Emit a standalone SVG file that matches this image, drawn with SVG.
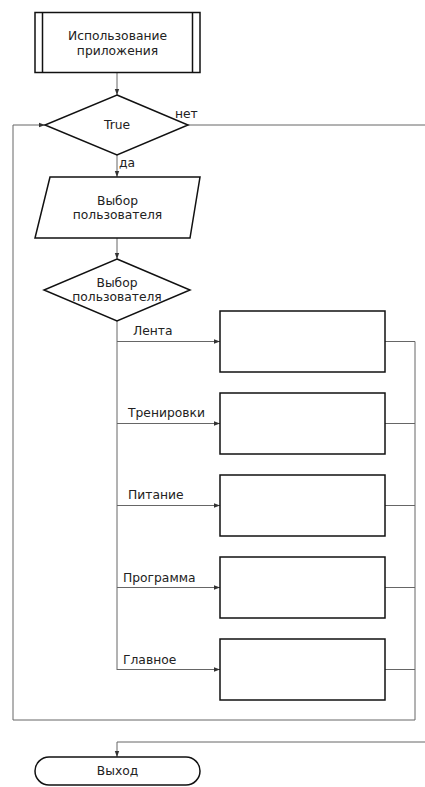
<svg xmlns="http://www.w3.org/2000/svg" width="425" height="787" viewBox="0 0 425 787">
<defs>
<marker id="arr" markerWidth="6" markerHeight="6" refX="6" refY="3" orient="auto" markerUnits="userSpaceOnUse">
<path d="M0,0.8 L6,3 L0,5.2 Z" fill="#333"/>
</marker>
<style>
.shape{fill:#fff;stroke:#111;stroke-width:1.5}
.line{fill:none;stroke:#666;stroke-width:1}
.t{font-family:"DejaVu Sans",Verdana,sans-serif;font-size:12.3px;fill:#222}
.c{text-anchor:middle}
</style>
</defs>
<rect width="425" height="787" fill="#fff"/>
<g id="connectors">
<path class="line" d="M117,73 V95" marker-end="url(#arr)"/>
<path class="line" d="M117,155 V177" marker-end="url(#arr)"/>
<path class="line" d="M117,238 V259" marker-end="url(#arr)"/>
<path class="line" d="M188,125 H425"/>
<path class="line" d="M13,125 H45" marker-end="url(#arr)"/>
<path class="line" d="M117,321 V670"/>
<path class="line" d="M117,341.5 H220" marker-end="url(#arr)"/>
<path class="line" d="M117,423.5 H220" marker-end="url(#arr)"/>
<path class="line" d="M117,505.5 H220" marker-end="url(#arr)"/>
<path class="line" d="M117,587.5 H220" marker-end="url(#arr)"/>
<path class="line" d="M117,669.5 H220" marker-end="url(#arr)"/>
<path class="line" d="M385,341.5 H415 M385,423.5 H415 M385,505.5 H415 M385,587.5 H415 M385,669.5 H415"/>
<path class="line" d="M415,341.5 V720 H13 V125"/>
<path class="line" d="M425,742 H117 V757" marker-end="url(#arr)"/>
<text class="t" x="175" y="118">нет</text>
<text class="t" x="119" y="167">да</text>
<text class="t" x="133" y="335">Лента</text>
<text class="t" x="128" y="417">Тренировки</text>
<text class="t" x="128" y="499">Питание</text>
<text class="t" x="123" y="582">Программа</text>
<text class="t" x="123" y="664">Главное</text>
</g>
<g id="start">
<rect class="shape" x="35" y="12.5" width="165" height="60"/>
<path class="shape" d="M42.5,12.5 V72.5 M192.5,12.5 V72.5"/>
<text class="t c" x="117.5" y="40">Использование</text>
<text class="t c" x="117.5" y="55">приложения</text>
</g>
<g id="cond-true">
<polygon class="shape" points="117,95 188,125 117,155 45,125"/>
<text class="t c" x="117" y="129">True</text>
</g>
<g id="input">
<polygon class="shape" points="50,177 200,177 190,238 35,238"/>
<text class="t c" x="117.5" y="205">Выбор</text>
<text class="t c" x="117.5" y="219">пользователя</text>
</g>
<g id="cond-choice">
<polygon class="shape" points="117,259 190,290 117,321 44,290"/>
<text class="t c" x="117" y="287">Выбор</text>
<text class="t c" x="117" y="301">пользователя</text>
</g>
<g id="box1"><rect class="shape" x="220" y="311" width="165" height="61"/></g>
<g id="box2"><rect class="shape" x="220" y="393" width="165" height="61"/></g>
<g id="box3"><rect class="shape" x="220" y="475" width="165" height="61"/></g>
<g id="box4"><rect class="shape" x="220" y="557" width="165" height="61"/></g>
<g id="box5"><rect class="shape" x="220" y="639" width="165" height="61"/></g>
<g id="exit">
<rect class="shape" x="35" y="757" width="165" height="28" rx="14" ry="14"/>
<text class="t c" x="117.5" y="775">Выход</text>
</g>
</svg>
